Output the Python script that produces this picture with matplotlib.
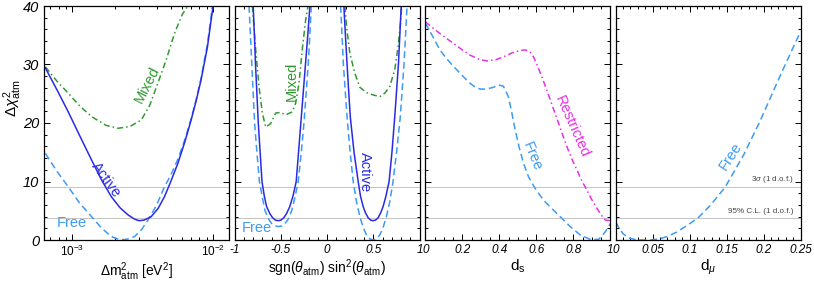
import matplotlib
matplotlib.use("Agg")
import matplotlib.pyplot as plt
from matplotlib.ticker import MultipleLocator, LogLocator, NullFormatter, FixedLocator

plt.rcParams['font.family'] = ['Liberation Sans', 'DejaVu Sans']
plt.rcParams['mathtext.fontset'] = 'custom'
plt.rcParams['mathtext.rm'] = 'Liberation Sans'
plt.rcParams['mathtext.it'] = 'Liberation Sans:italic'
plt.rcParams['mathtext.bf'] = 'Liberation Sans:bold'

# colours
c_active = '#2a2ae6'
c_free = '#3d9bf5'
c_mixed = '#2f9a2f'
c_restr = '#e830e8'
c_grid = '#c4c4c4'

# panel 1: log10(dm2_atm) vs dchi2
p1_active_lx = [-3.19, -3.10, -3.03, -2.95, -2.863, -2.79, -2.722, -2.66, -2.604, -2.56, -2.526, -2.49,
                -2.439, -2.39, -2.345, -2.30, -2.25, -2.20, -2.156, -2.12, -2.085, -2.04, -2.0]
p1_active_y = [29.4, 25.3, 22.0, 18.0, 13.7, 10.2, 7.4, 5.5, 4.3, 3.6, 3.3, 3.4,
               4.0, 5.4, 7.4, 10.0, 13.1, 16.8, 20.5, 23.8, 27.4, 33.0, 40.0]
p1_free_lx = [-3.19, -3.11, -3.028, -2.95, -2.863, -2.79, -2.722, -2.68, -2.639, -2.60, -2.557, -2.51,
              -2.462, -2.40, -2.345, -2.30, -2.25, -2.20, -2.156, -2.12, -2.085, -2.04, -2.0]
p1_free_y = [14.8, 11.8, 9.1, 6.4, 4.0, 2.0, 0.6, 0.2, 0.05, 0.2, 0.6, 1.7,
             3.4, 6.0, 9.1, 11.1, 13.8, 17.2, 20.7, 24.0, 27.7, 33.5, 40.8]
p1_mixed_lx = [-3.19, -3.11, -3.028, -2.95, -2.863, -2.76, -2.675, -2.59, -2.51, -2.45, -2.392,
               -2.33, -2.274, -2.22, -2.18]
p1_mixed_y = [29.6, 27.2, 25.1, 23.0, 21.1, 19.6, 19.1, 19.4, 20.5, 23.0, 26.8,
              31.0, 35.3, 38.5, 40.0]

# panel 2: sgn(theta) sin^2(theta)
p2_active_l_x = [-0.80, -0.787, -0.775, -0.76, -0.745, -0.725, -0.705, -0.68, -0.655, -0.62, -0.59, -0.56,
                 -0.53, -0.50, -0.47, -0.44, -0.405, -0.37, -0.335, -0.31, -0.285, -0.26, -0.235, -0.21, -0.187]
p2_active_l_y = [40, 35, 30, 25, 20, 15, 10, 7.5, 5.7, 4.5, 3.8, 3.4,
                 3.3, 3.4, 3.8, 4.5, 5.7, 7.5, 10, 15, 20, 25, 30, 35, 40]
p2_active_r_x = [0.18, 0.197, 0.215, 0.232, 0.25, 0.29, 0.335, 0.36, 0.389, 0.415, 0.443, 0.47,
                 0.496, 0.523, 0.55, 0.577, 0.604, 0.635, 0.669, 0.70, 0.73, 0.75, 0.77, 0.785, 0.80]
p2_active_r_y = [40, 35, 30, 25.5, 21, 15, 10, 7.5, 5.7, 4.6, 3.8, 3.4,
                 3.3, 3.4, 3.8, 4.6, 5.7, 7.5, 10, 15, 21, 25.5, 30, 35, 40]
p2_free_l_x = [-0.845, -0.83, -0.815, -0.80, -0.785, -0.76, -0.733, -0.70, -0.672, -0.635, -0.60, -0.565,
               -0.528, -0.49, -0.456, -0.42, -0.384, -0.35, -0.313, -0.28, -0.251, -0.228, -0.205, -0.188, -0.172]
p2_free_l_y = [40, 35, 30, 25, 20, 15, 10, 7.2, 5.0, 3.6, 2.8, 2.4,
               2.3, 2.4, 2.8, 3.6, 5.0, 7.2, 10, 15, 20, 25, 30, 35, 40]
p2_free_r_x = [0.145, 0.16, 0.175, 0.195, 0.215, 0.248, 0.281, 0.317, 0.353, 0.39, 0.425, 0.46,
               0.496, 0.532, 0.568, 0.604, 0.64, 0.676, 0.712, 0.75, 0.79, 0.81, 0.83, 0.847, 0.863]
p2_free_r_y = [40, 35, 30, 25.5, 21, 15, 10, 6.5, 4.0, 2.1, 0.85, 0.2,
               0.0, 0.2, 0.85, 2.1, 4.0, 6.5, 10, 15, 21, 25.5, 30, 35, 40]
p2_mixed_l_x = [-0.809, -0.773, -0.737, -0.701, -0.665, -0.611, -0.557, -0.503, -0.449, -0.377,
                -0.341, -0.305, -0.270, -0.233, -0.208]
p2_mixed_l_y = [40.0, 32.5, 26.2, 21.7, 19.3, 19.9, 21.7, 21.8, 21.4, 21.9, 23.4, 26.8, 32.5, 37.6, 40.0]
p2_mixed_r_x = [0.191, 0.209, 0.245, 0.299, 0.353, 0.425, 0.496, 0.568, 0.622, 0.676, 0.730, 0.766, 0.792, 0.806]
p2_mixed_r_y = [40.0, 36.5, 31.9, 28.5, 26.1, 25.2, 24.8, 24.5, 25.1, 26.2, 29.1, 33.0, 37.0, 40.0]

# panel 3: d_s
p3_restr_x = [0.0, 0.05, 0.10, 0.152, 0.20, 0.242, 0.29, 0.332, 0.38, 0.422, 0.47, 0.513, 0.54, 0.567,
              0.585, 0.603, 0.63, 0.657, 0.685, 0.711, 0.74, 0.765, 0.79, 0.819, 0.845, 0.874,
              0.90, 0.928, 0.95, 0.973, 1.0]
p3_restr_y = [37.3, 36.0, 34.8, 33.6, 32.5, 31.6, 30.9, 30.6, 30.8, 31.3, 32.0, 32.4, 32.5, 32.1,
              31.3, 30.0, 27.9, 25.6, 23.1, 20.8, 18.2, 16.0, 14.0, 12.0, 10.2, 8.5,
              6.9, 5.4, 4.3, 3.4, 3.3]
p3_free_x = [0.0, 0.04, 0.079, 0.115, 0.152, 0.20, 0.242, 0.27, 0.296, 0.33, 0.368, 0.395, 0.422,
             0.449, 0.468, 0.486, 0.507, 0.531, 0.558, 0.594, 0.639, 0.693, 0.729,
             0.783, 0.838, 0.892, 0.937, 0.973, 1.0]
p3_free_y = [37.1, 34.8, 32.5, 31.0, 29.7, 28.1, 26.8, 26.1, 25.8, 25.8, 26.1, 26.5, 26.3,
             24.5, 21.7, 18.8, 15.9, 13.1, 10.8, 8.8, 6.8, 5.1, 4.0,
             2.3, 0.85, 0.1, 0.1, 1.4, 2.8]

# panel 4: d_mu
p4_free_x = [0.0, 0.005, 0.01, 0.015, 0.019, 0.028, 0.037, 0.048, 0.06, 0.07, 0.082, 0.097, 0.112,
             0.128, 0.148, 0.173, 0.196, 0.218, 0.236, 0.25]
p4_free_y = [3.1, 2.0, 1.1, 0.6, 0.3, 0.05, 0.0, 0.02, 0.2, 0.6, 1.3, 2.5, 3.84,
             5.9, 9.0, 14.5, 20.5, 26.8, 31.8, 35.6]

cl_levels = [9.0, 3.84]
cl_texts = [r'3$\sigma$ (1 d.o.f.)', '95% C.L. (1 d.o.f.)']

W, H = 814, 282
fig = plt.figure(figsize=(W / 100, H / 100), dpi=100)

lefts = [44, 234.7, 425.3, 615.5]
pw = 185
top, bot = 6, 240
axes = [fig.add_axes([l / W, 1 - bot / H, pw / W, (bot - top) / H]) for l in lefts]

dash = (0, (4.5, 2.5))
dashdot = (0, (4, 2, 1, 2))
lw = 1.1
lab_fs = 10.5

tickfont = dict(fontsize=8.5, fontstyle='italic')

for ax in axes:
    ax.set_ylim(0, 40)
    for lev in cl_levels:
        ax.axhline(lev, color=c_grid, lw=0.7, zorder=0)
    ax.yaxis.set_major_locator(MultipleLocator(10))
    ax.yaxis.set_minor_locator(MultipleLocator(2))
    ax.tick_params(which='both', direction='in', top=True, right=True, width=0.7)
    ax.tick_params(which='major', length=4.5)
    ax.tick_params(which='minor', length=2.5)
    ax.tick_params(axis='x', pad=3)
    for s in ax.spines.values():
        s.set_linewidth(0.9)

# panel 1
ax = axes[0]
ax.set_xscale('log')
ax.set_xlim(10 ** -3.2, 10 ** -1.887)
ax.plot([10 ** v for v in p1_mixed_lx], p1_mixed_y, color=c_mixed, lw=lw, ls=dashdot)
ax.plot([10 ** v for v in p1_free_lx], p1_free_y, color=c_free, lw=lw, ls=dash)
ax.plot([10 ** v for v in p1_active_lx], p1_active_y, color=c_active, lw=lw)
ax.xaxis.set_major_locator(FixedLocator([1e-3, 1e-2]))
ax.xaxis.set_minor_locator(LogLocator(base=10, subs=range(2, 10)))
ax.xaxis.set_minor_formatter(NullFormatter())
ax.set_xticklabels([r'$\mathit{10^{-3}}$', r'$\mathit{10^{-2}}$'], fontsize=8.5)
ax.set_yticks([0, 10, 20, 30, 40])
ax.set_yticklabels(['0', '10', '20', '30', '40'], fontsize=10.5, fontstyle='italic')
ax.text(0.555, 0.665, 'Mixed', transform=ax.transAxes, color=c_mixed, fontsize=lab_fs, rotation=63,
        ha='center', va='center')
ax.text(0.335, 0.255, 'Active', transform=ax.transAxes, color=c_active, fontsize=lab_fs, rotation=-54,
        ha='center', va='center')
ax.text(0.15, 0.074, 'Free', transform=ax.transAxes, color=c_free, fontsize=lab_fs,
        ha='center', va='center')
ax.set_xlabel(r'$\Delta$m$^2_{\rm atm}$ [eV$^2$]', fontsize=10, labelpad=1)
fig.text(13 / W, 1 - 98 / H, r'$\Delta\chi^2_{\rm atm}$', rotation=90, fontsize=11,
         ha='center', va='center')

# panel 2
ax = axes[1]
ax.set_xlim(-1, 1)
ax.plot(p2_mixed_l_x, p2_mixed_l_y, color=c_mixed, lw=lw, ls=dashdot)
ax.plot(p2_mixed_r_x, p2_mixed_r_y, color=c_mixed, lw=lw, ls=dashdot)
ax.plot(p2_free_l_x, p2_free_l_y, color=c_free, lw=lw, ls=dash)
ax.plot(p2_free_r_x, p2_free_r_y, color=c_free, lw=lw, ls=dash)
ax.plot(p2_active_l_x, p2_active_l_y, color=c_active, lw=lw)
ax.plot(p2_active_r_x, p2_active_r_y, color=c_active, lw=lw)
ax.xaxis.set_minor_locator(MultipleLocator(0.1))
ax.set_xticks([-1, -0.5, 0, 0.5, 1])
ax.set_xticklabels(['-1', '-0.5', '0', '0.5', '1'], **tickfont)
ax.set_yticklabels([])
ax.text(0.31, 0.68, 'Mixed', transform=ax.transAxes, color=c_mixed, fontsize=lab_fs, rotation=90,
        ha='center', va='center')
ax.text(0.705, 0.292, 'Active', transform=ax.transAxes, color=c_active, fontsize=lab_fs, rotation=-90,
        ha='center', va='center')
ax.text(0.119, 0.05, 'Free', transform=ax.transAxes, color=c_free, fontsize=lab_fs,
        ha='center', va='center')
ax.set_xlabel(r'sgn($\theta_{\rm atm}$) sin$^2$($\theta_{\rm atm}$)', fontsize=10, labelpad=1)

# panel 3
ax = axes[2]
ax.set_xlim(0, 1)
ax.plot(p3_restr_x, p3_restr_y, color=c_restr, lw=lw, ls=dashdot)
ax.plot(p3_free_x, p3_free_y, color=c_free, lw=lw, ls=dash)
ax.xaxis.set_minor_locator(MultipleLocator(0.05))
ax.set_xticks([0, 0.2, 0.4, 0.6, 0.8, 1])
ax.set_xticklabels(['0', '0.2', '0.4', '0.6', '0.8', '1'], **tickfont)
ax.set_yticklabels([])
ax.text(0.79, 0.484, 'Restricted', transform=ax.transAxes, color=c_restr, fontsize=lab_fs, rotation=-66,
        ha='center', va='center')
ax.text(0.58, 0.356, 'Free', transform=ax.transAxes, color=c_free, fontsize=lab_fs, rotation=-68,
        ha='center', va='center')
ax.set_xlabel(r'd$_{\rm s}$', fontsize=11, labelpad=1)

# panel 4
ax = axes[3]
ax.set_xlim(0, 0.25)
ax.plot(p4_free_x, p4_free_y, color=c_free, lw=lw, ls=dash)
ax.xaxis.set_minor_locator(MultipleLocator(0.01))
ax.set_xticks([0, 0.05, 0.1, 0.15, 0.2, 0.25])
ax.set_xticklabels(['0', '0.05', '0.1', '0.15', '0.2', '0.25'], **tickfont)
ax.set_yticklabels([])
ax.text(0.622, 0.36, 'Free', transform=ax.transAxes, color=c_free, fontsize=lab_fs, rotation=57,
        ha='center', va='center')
for lev, txt in zip(cl_levels, cl_texts):
    ax.text(0.241, lev + 0.35, txt, color='#444444', fontsize=5.8, ha='right', va='bottom')
ax.set_xlabel(r'd$_{\mu}$', fontsize=11, labelpad=1)

fig.savefig('out.png', dpi=100)
